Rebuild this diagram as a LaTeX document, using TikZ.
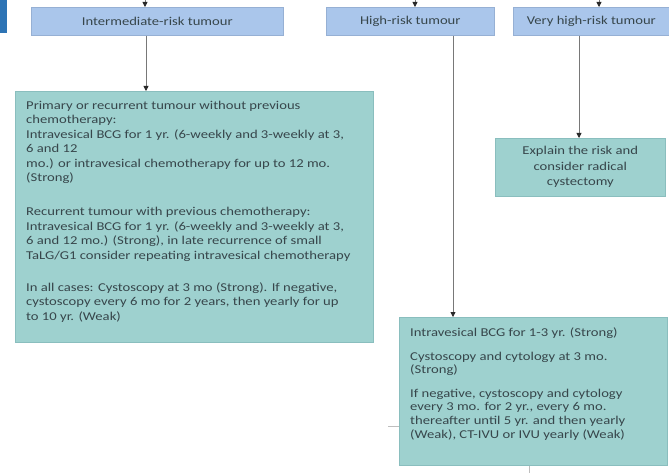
\documentclass[tikz,border=0pt]{standalone}
\usepackage{fontspec}
\setmainfont[FakeStretch=1.22]{Carlito}
\usetikzlibrary{arrows.meta}
\definecolor{topfill}{RGB}{170,198,235}
\definecolor{topdraw}{RGB}{150,176,212}
\definecolor{tealfill}{RGB}{158,209,207}
\definecolor{tealdraw}{RGB}{138,190,190}
\definecolor{txt}{RGB}{55,70,75}
\definecolor{conn}{RGB}{120,120,120}
\definecolor{tipcol}{RGB}{40,40,40}
\definecolor{barblue}{RGB}{46,116,181}
\definecolor{stubcol}{RGB}{190,190,190}
\begin{document}
\begin{tikzpicture}[x=1pt,y=-1pt,
  riskbox/.style={draw=topdraw, fill=topfill, line width=0.6pt, anchor=north west,
    inner sep=0pt, text=txt, font=\fontsize{12}{14}\selectfont},
  carebox/.style={draw=tealdraw, fill=tealfill, line width=0.6pt, anchor=north west, inner sep=0pt},
  bodytext/.style={anchor=north west, inner sep=0pt, align=left, text=txt},
  arrowline/.style={draw=conn, line width=0.8pt, -{Triangle[length=5pt,width=5pt,color=tipcol]}},
  stubline/.style={draw=stubcol, line width=0.8pt}
]
\useasboundingbox (0,0) rectangle (669,473);
\fill[white] (0,0) rectangle (669,473);
% left blue bar
\fill[barblue] (0,0) rectangle (7,33);

% top risk boxes
\node[riskbox, minimum width=252pt, minimum height=28pt] (ir) at (31,7) {Intermediate-risk tumour};
\node[riskbox, minimum width=168pt, minimum height=28pt] (hr) at (326,7) {High-risk tumour};
\node[riskbox, minimum width=156pt, minimum height=28pt] (vh) at (513,7) {Very high-risk tumour};

% care boxes
\node[carebox, minimum width=358pt, minimum height=251pt] (ic) at (15,91) {};
\node[bodytext, font=\fontsize{12}{14.4}\selectfont] (ictext) at (26,101) {%
Primary or recurrent tumour without previous\\
chemotherapy:\\
Intravesical BCG for 1 yr. (6-weekly and 3-weekly at 3,\\
6 and 12\\
mo.) or intravesical chemotherapy for up to 12 mo.\\
(Strong)\\[20pt]
Recurrent tumour with previous chemotherapy:\\
Intravesical BCG for 1 yr. (6-weekly and 3-weekly at 3,\\
6 and 12 mo.) (Strong), in late recurrence of small\\
TaLG/G1 consider repeating intravesical chemotherapy\\[18pt]
In all cases: Cystoscopy at 3 mo (Strong). If negative,\\
cystoscopy every 6 mo for 2 years, then yearly for up\\
to 10 yr. (Weak)};

\node[carebox, minimum width=268pt, minimum height=148pt] (hc) at (399,317) {};
\node[bodytext, font=\fontsize{12}{13.6}\selectfont] (hctext) at (410,328) {%
Intravesical BCG for 1-3 yr. (Strong)\\[9.5pt]
Cystoscopy and cytology at 3 mo.\\
(Strong)\\[10pt]
If negative, cystoscopy and cytology\\
every 3 mo. for 2 yr., every 6 mo.\\
thereafter until 5 yr. and then yearly\\
(Weak), CT-IVU or IVU yearly (Weak)};

\node[carebox, minimum width=170pt, minimum height=58pt, align=center, text=txt,
  font=\fontsize{12}{15.5}\selectfont] (vc) at (495,138) {Explain the risk and\\consider radical\\cystectomy};

% incoming arrows from above
\coordinate (inIR) at (145,-8);
\coordinate (inHR) at (415,-8);
\coordinate (inVH) at (599,-8);
\draw[arrowline] (inIR) -- (inIR |- ir.north);
\draw[arrowline] (inHR) -- (inHR |- hr.north);
\draw[arrowline] (inVH) -- (inVH |- vh.north);

% connectors
\coordinate (xa) at (146,0);
\coordinate (xb) at (453,0);
\coordinate (xc) at (579,0);
\draw[arrowline] (ir.south -| xa) -- (ic.north -| xa);
\draw[arrowline] (hr.south -| xb) -- (hc.north -| xb);
\draw[arrowline] (vh.south -| xc) -- (vc.north -| xc);

% faint stubs
\coordinate (s1) at (388,426);
\coordinate (s2) at (529,473);
\draw[stubline] (s1) -- (s1 -| hc.west);
\draw[stubline] (hc.south -| s2) -- (s2);
\end{tikzpicture}
\end{document}
